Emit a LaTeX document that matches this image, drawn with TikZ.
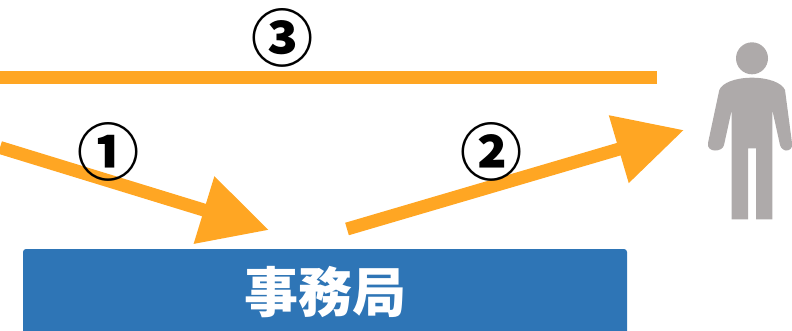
\documentclass[tikz,border=0pt]{standalone}
\usepackage{fontspec}
\newfontfamily\cjk{Noto Sans CJK JP}
\usepackage{tikz}
\usetikzlibrary{arrows.meta}
\definecolor{flowOrange}{HTML}{FFA623}
\definecolor{officeBlue}{HTML}{2E75B6}
\definecolor{personGray}{HTML}{AEAAAA}
\tikzstyle{block} = [fill=officeBlue,rectangle,rounded corners=3pt,minimum width=604pt,minimum height=86pt,text=white,font=\cjk\bfseries\fontsize{54}{54}\selectfont]
\tikzstyle{number} = [inner sep=0pt,font=\cjk\bfseries\fontsize{62}{62}\selectfont]
\tikzstyle{line} = [draw=flowOrange,line width=13pt]
\tikzstyle{arrowLine} = [draw=flowOrange,line width=13pt,-{Triangle[length=68pt,width=67pt]}]

\begin{document}
\begin{tikzpicture}[x=1pt,y=-1pt]
		\useasboundingbox (0,0) rectangle (792,330);
		\node[block](office) at (325,292){事務局};
		\coordinate(firstStart) at (0,147.5);
		\coordinate(firstEnd) at (269,230);
		\coordinate(secondStart) at (347,229);
		\coordinate(secondEnd) at (684,130);
		\coordinate(thirdStart) at (0,77.5);
		\coordinate(thirdEnd) at (657,77.5);
		%arrows
		\path[arrowLine](firstStart)--(firstEnd);
		\path[arrowLine](secondStart)--(secondEnd);
		\path[line](thirdStart)--(thirdEnd);
		%numbers
		\node[number,above of=office,node distance=140pt,xshift=-217pt](first){①};
		\node[number,above of=office,node distance=140pt,xshift=166pt](second){②};
		\node[number,above of=office,node distance=254pt,xshift=-43pt](third){③};
		%person
		\fill[personGray] (752,58.3) circle (16);
		\fill[personGray] (752,77.7) .. controls (735,77.7) and (722,83) .. (719.3,90) -- (708,143) .. controls (707,148) and (711,150.5) .. (715,150.5) .. controls (719,150.5) and (723,149) .. (724,145) -- (731.7,110) -- (731.7,219.3) -- (748,219.3) -- (748,148.3) -- (756,148.3) -- (756,219.3) -- (772.3,219.3) -- (772.3,110) -- (780,145) .. controls (781,149) and (785,150.5) .. (786,150.5) .. controls (790,150.5) and (793,148) .. (792,143) -- (785,90) .. controls (782,83) and (769,77.7) .. (752,77.7) -- cycle;
	\end{tikzpicture}
\end{document}
